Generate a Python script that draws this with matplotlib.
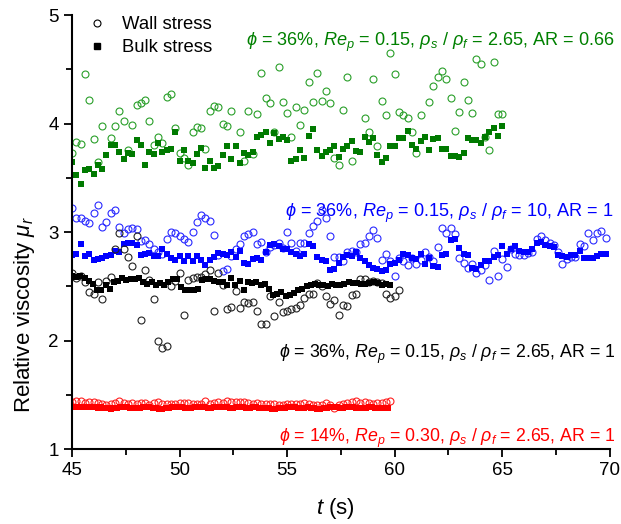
import numpy as np
import matplotlib
matplotlib.use("Agg")
import matplotlib.pyplot as plt
from matplotlib.lines import Line2D

plt.rcParams["font.family"] = ["Liberation Sans", "DejaVu Sans"]
plt.rcParams["mathtext.fontset"] = "custom"
plt.rcParams["mathtext.rm"] = "Liberation Sans"
plt.rcParams["mathtext.it"] = "Liberation Sans:italic"
plt.rcParams["mathtext.bf"] = "Liberation Sans:bold"

# phi = 36 %, Re_p = 0.15, rho_s/rho_f = 2.65, AR = 0.66  (sampled every 0.2 s)
green_t = np.arange(101) * 0.2 + 45.0
green_bulk = [3.65, 3.53, 3.44, 3.57, 3.58, 3.54, 3.62, 3.58, 3.71, 3.80,
              3.80, 3.74, 3.67, 3.73, 3.72, 3.85, 3.80, 3.62, 3.74, 3.72,
              3.82, 3.74, 3.76, 3.77, 3.92, 3.66, 3.76, 3.66, 3.64, 3.72,
              3.78, 3.59, 3.66, 3.59, 3.61, 3.71, 3.79, 3.67, 3.79, 3.64,
              3.73, 3.71, 3.74, 3.88, 3.90, 3.92, 3.82, 3.91, 3.86, 3.88,
              3.85, 3.66, 3.67, 3.76, 3.68, 3.89, 3.95, 3.76, 3.70, 3.74,
              3.76, 3.79, 3.69, 3.77, 3.79, 3.84, 3.75, 3.74, 3.88, 3.83,
              3.87, 3.71, 3.65, 3.68, 3.79, 3.79, 3.87, 3.87, 3.93, 3.80,
              3.77, 3.84, 3.88, 3.76, 3.86, 3.87, 3.77, 3.77, 3.70, 3.70,
              3.69, 3.73, 3.87, 3.85, 3.85, 3.82, 3.88, 3.92, 3.96, 3.89,
              3.98]
green_wall = [3.73, 3.83, 3.81, 4.46, 4.22, 3.86, 3.65, 3.98, np.nan, 3.87,
              3.98, 4.12, 4.02, 3.76, 3.99, 4.17, 4.19, 4.22, 4.02, 3.80,
              3.88, 3.82, 4.25, 4.27, 3.96, 3.73, 3.68, 3.62, 3.92, 3.97,
              3.96, 3.77, 4.12, 4.16, 4.15, 4.00, 3.98, 4.12, np.nan, 3.92,
              3.66, 4.12, 3.72, 4.09, 4.47, 4.24, 4.19, 3.92, 4.52, 4.20,
              4.10, 3.88, 4.15, 3.99, 4.13, 4.38, 4.20, 4.47, 4.21, 4.30,
              4.19, 3.68, 3.62, 4.13, 4.43, 3.66, np.nan, np.nan, 4.05, 3.92,
              4.41, 3.79, 4.21, 4.08, 4.65, 4.46, 4.11, 4.08, 4.05, 3.92,
              3.73, 4.08, np.nan, 4.20, 4.35, 4.43, 4.49, 4.41, 4.24, 3.93,
              4.11, 4.38, 4.22, 4.10, 4.60, 4.55, 3.88, 3.76, 4.57, 4.09,
              4.09]

# phi = 36 %, Re_p = 0.15, rho_s/rho_f = 10, AR = 1
blue_t = np.arange(125) * 0.2 + 45.0
blue_bulk = [2.79, 2.80, 2.89, 2.78, 2.80, 2.74, 2.75, 2.76, 2.78, 2.79,
             2.83, 2.82, 2.89, 2.90, 2.90, 2.88, 2.79, 2.80, 2.81, 2.78,
             2.78, 2.84, 2.80, 2.76, 2.74, 2.78, 2.73, 2.78, 2.73, 2.78,
             2.74, 2.70, 2.74, 2.77, 2.81, 2.80, 2.79, 2.82, 2.77, 2.83,
             2.72, 2.71, 2.75, 2.76, 2.74, 2.82, 2.88, 2.89, 2.87, 2.84,
             2.84, 2.82, 2.80, 2.78, 2.80, 2.89, 2.87, 2.77, 2.74, 2.73,
             2.65, 2.66, 2.72, 2.77, 2.79, 2.78, 2.82, 2.76, 2.73, 2.70,
             2.67, 2.66, 2.64, 2.65, 2.71, 2.72, 2.74, 2.80, 2.79, 2.76,
             2.75, 2.80, 2.71, 2.76, 2.69, 2.68, 2.79, 2.80, 2.93, 2.94,
             2.85, 2.80, 2.79, 2.67, 2.66, 2.70, 2.73, 2.73, 2.77, 2.79,
             2.87, 2.80, 2.84, 2.87, 2.83, 2.82, 2.82, 2.84, 2.90, 2.91,
             2.88, 2.87, 2.86, 2.79, 2.78, 2.77, 2.79, 2.79, 2.83, 2.76,
             2.76, 2.76, 2.78, 2.80, 2.80]
blue_wall = [3.22, 3.13, 3.13, 3.10, 3.08, 3.18, 3.25, 3.05, 3.09, 3.18,
             3.20, 3.05, 2.99, 3.03, 3.04, 3.03, 2.92, 2.93, 2.89, 2.84,
             2.82, 2.80, 2.94, 3.00, 2.99, 2.96, 2.94, 2.91, 3.00, 3.09,
             3.16, 3.13, 3.10, 2.97, 2.79, 2.64, 2.66, 2.78, 2.84, 2.89,
             2.96, 2.98, 3.00, 2.89, 2.91, 2.82, 2.86, 2.88, 2.90, 2.85,
             3.00, 2.90, 2.83, 2.90, 2.90, 2.99, 3.06, 3.10, 3.20, 3.13,
             2.96, 2.77, 2.77, 2.73, 2.82, 2.83, 2.82, 2.89, 2.90, 2.96,
             3.02, 2.95, 2.74, 2.80, 2.73, 2.60, 2.76, 2.73, 2.70, 2.76,
             2.71, 2.74, 2.82, 2.77, 2.73, 2.86, 3.04, 2.99, 3.04, 2.98,
             2.76, 2.72, 2.67, 2.71, 2.62, 2.65, 2.70, 2.56, 2.83, 2.60,
             2.75, 2.68, 2.84, 2.80, 2.79, 2.79, 2.81, 2.82, 2.94, 2.96,
             2.93, 2.90, 2.88, 2.82, 2.71, 2.75, 2.77, 2.77, 2.89, 2.87,
             2.99, 2.93, 2.99, 3.01, 2.95]

# phi = 36 %, Re_p = 0.15, rho_s/rho_f = 2.65, AR = 1
black_t_bulk = np.linspace(45.0, 59.8, 77)
black_t_wall = np.arange(77) * 0.2 + 45.0
black_bulk = [2.60, 2.59, 2.60, 2.58, 2.55, 2.52, 2.47, 2.47, 2.51, 2.48,
              2.54, 2.55, 2.58, 2.56, 2.57, 2.57, 2.58, 2.54, 2.52, 2.54,
              2.51, 2.53, 2.51, 2.54, 2.57, 2.57, 2.49, 2.47, 2.47, 2.47,
              2.48, 2.56, 2.57, 2.57, 2.55, 2.54, 2.54, 2.51, 2.58, 2.51,
              2.55, 2.47, 2.54, 2.53, 2.54, 2.51, 2.52, 2.48, 2.42, 2.43,
              2.45, 2.41, 2.42, 2.44, 2.47, 2.48, 2.50, 2.51, 2.52, 2.51,
              2.51, 2.50, 2.52, 2.51, 2.51, 2.52, 2.54, 2.53, 2.53, 2.52,
              2.52, 2.53, 2.54, 2.53, 2.51, 2.52, 2.51]
black_wall = [2.62, 2.58, 2.60, 2.54, 2.45, 2.43, 2.54, 2.38, 2.55, 2.59,
              2.84, 2.99, 2.84, 2.77, 2.69, 2.96, 2.19, 2.65, 2.56, 2.38,
              2.00, 1.93, 1.95, 2.50, 2.55, 2.62, 2.24, 2.56, 2.58, 2.59,
              2.59, 2.61, 2.65, 2.27, 2.62, 2.51, 2.29, 2.31, 2.46, 2.30,
              2.36, 2.35, 2.36, 2.27, 2.15, 2.15, 2.41, 2.23, 2.36, 2.26,
              2.27, 2.29, 2.30, 2.33, 2.39, 2.43, 2.43, 2.53, 2.50, 2.41,
              2.34, 2.37, 2.24, 2.33, 2.32, 2.42, 2.43, 2.57, 2.57, 2.54,
              2.55, 2.54, 2.53, 2.43, 2.39, 2.41, 2.47]

# phi = 14 %, Re_p = 0.30, rho_s/rho_f = 2.65, AR = 1
red_t_bulk = np.arange(99) * 0.15 + 45.0
red_t_wall = np.arange(75) * 0.2 + 45.0
red_bulk = [1.39, 1.39, 1.39, 1.39, 1.39, 1.39, 1.39, 1.39, 1.38, 1.39,
            1.38, 1.38, 1.37, 1.38, 1.38, 1.39, 1.39, 1.39, 1.38, 1.38,
            1.38, 1.38, 1.39, 1.39, 1.39, 1.38, 1.38, 1.37, 1.37, 1.38,
            1.38, 1.39, 1.39, 1.39, 1.39, 1.38, 1.38, 1.38, 1.39, 1.39,
            1.39, 1.39, 1.38, 1.38, 1.39, 1.39, 1.39, 1.39, 1.39, 1.38,
            1.38, 1.39, 1.39, 1.39, 1.38, 1.38, 1.39, 1.39, 1.38, 1.38,
            1.38, 1.38, 1.37, 1.37, 1.38, 1.38, 1.38, 1.39, 1.39, 1.39,
            1.38, 1.38, 1.38, 1.39, 1.38, 1.38, 1.37, 1.37, 1.38, 1.38,
            1.39, 1.39, 1.39, 1.38, 1.38, 1.39, 1.39, 1.39, 1.38, 1.38,
            1.38, 1.38, 1.39, 1.39, 1.38, 1.38, 1.38, 1.38, 1.38]
red_wall = [1.433, 1.442, 1.442, 1.427, 1.430, 1.433, 1.421, 1.415, 1.406, 1.415,
            1.421, 1.445, 1.421, 1.415, 1.421, 1.415, 1.421, 1.421, 1.409, 1.421,
            1.433, 1.412, 1.412, 1.412, 1.415, 1.427, 1.427, 1.421, 1.412, 1.412,
            1.412, 1.442, 1.412, 1.427, 1.433, 1.421, 1.445, 1.433, 1.433, 1.433,
            1.433, 1.427, 1.415, 1.421, 1.412, 1.412, 1.412, 1.412, 1.409, 1.409,
            1.412, 1.415, 1.412, 1.415, 1.421, 1.412, 1.406, 1.406, 1.406, 1.421,
            1.406, 1.375, 1.406, 1.412, 1.421, 1.436, 1.442, 1.427, 1.433, 1.421,
            1.415, 1.427, 1.421, 1.433, 1.442]

labels = [r"$\phi$ = 36%, $Re_p$ = 0.15, $\rho_s$ / $\rho_f$ = 2.65, AR = 0.66",
          r"$\phi$ = 36%, $Re_p$ = 0.15, $\rho_s$ / $\rho_f$ = 10, AR = 1",
          r"$\phi$ = 36%, $Re_p$ = 0.15, $\rho_s$ / $\rho_f$ = 2.65, AR = 1",
          r"$\phi$ = 14%, $Re_p$ = 0.30, $\rho_s$ / $\rho_f$ = 2.65, AR = 1"]

fig = plt.figure(figsize=(6.21, 5.24), dpi=100)
ax = fig.add_axes([0.116, 0.143, 0.866, 0.828])


def draw(t_wall, wall, t_bulk, bulk, wall_color, bulk_color, sq=4.2):
    ax.plot(t_wall, wall, linestyle="none", marker="o", ms=5.0, mfc="none",
            mec=wall_color, mew=0.8)
    ax.plot(t_bulk, bulk, linestyle="none", marker="s", ms=sq,
            color=bulk_color, mew=0)


draw(green_t, green_wall, green_t, green_bulk, "#2a9f2a", "#007a00")
draw(blue_t, blue_wall, blue_t, blue_bulk, "#2a2aff", "#0000ff")
draw(black_t_wall, black_wall, black_t_bulk, black_bulk, "#222222", "#000000")
draw(red_t_wall, red_wall, red_t_bulk, red_bulk, "#ff2020", "#ff0000", sq=5.0)

# condition labels, right-aligned at the end of the time axis
ax.text(70.25, 4.75, labels[0], color="#008000", fontsize=13.1, ha="right", va="center")
ax.text(70.15, 3.17, labels[1], color="#0000ff", fontsize=13.1, ha="right", va="center")
ax.text(70.25, 1.87, labels[2], color="#000000", fontsize=12.8, ha="right", va="center")
ax.text(70.25, 1.10, labels[3], color="#ff0000", fontsize=12.8, ha="right", va="center")

handles = [Line2D([], [], linestyle="none", marker="o", ms=5.0, mfc="none",
                  mec="black", mew=0.8),
           Line2D([], [], linestyle="none", marker="s", ms=4.2, color="black")]
ax.legend(handles, ["Wall stress", "Bulk stress"], loc="upper left",
          bbox_to_anchor=(-0.006, 1.036), frameon=False, fontsize=13.3,
          handlelength=1.2, handletextpad=0.8, labelspacing=0.32)

ax.set_xlim(45, 70)
ax.set_ylim(1, 5)
ax.set_xticks([45, 50, 55, 60, 65, 70])
ax.set_yticks([1, 2, 3, 4, 5])
ax.set_xticks(np.arange(45, 70.1, 2.5), minor=True)
ax.set_yticks(np.arange(1, 5.01, 0.5), minor=True)
ax.tick_params(which="both", direction="out", width=1.3, labelsize=13.5)
ax.tick_params(which="major", length=6)
ax.tick_params(which="minor", length=4)
for side in ["top", "right"]:
    ax.spines[side].set_visible(False)
for side in ["left", "bottom"]:
    ax.spines[side].set_linewidth(1.5)

ax.set_xlabel(r"$t$ (s)", fontsize=16)
ax.set_ylabel(r"Relative viscosity $\mu_r$", fontsize=16)
ax.xaxis.set_label_coords(0.49, -0.108)
ax.yaxis.set_label_coords(-0.066, 0.31)

fig.savefig("out.png", dpi=100)
